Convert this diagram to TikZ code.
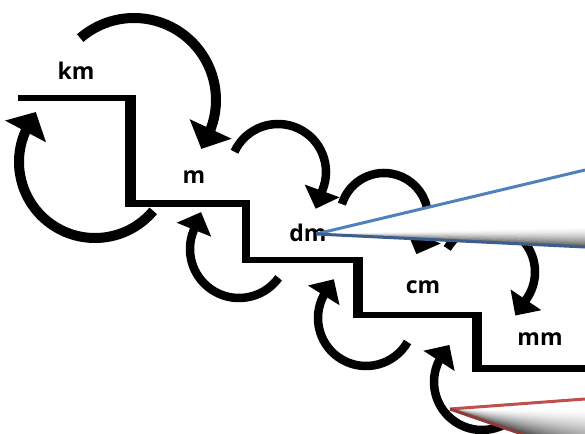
\documentclass[tikz,border=0pt]{standalone}
\usepackage{fontspec}
\setmainfont{Open Sans}
\usetikzlibrary{arrows.meta}
\definecolor{edgeblue}{HTML}{4F81BD}
\definecolor{edgeblued}{HTML}{3A5F8E}
\definecolor{edgered}{HTML}{C0504D}
\definecolor{edgeredd}{HTML}{8E3A38}
\tikzset{
  stair/.style={fill=black},
  bigshaft/.style={draw=black, line width=10pt, -{Triangle[width=45pt,length=22pt]}},
  shaft/.style={draw=black, line width=8.5pt, -{Triangle[width=36pt,length=19pt]}},
  lbl/.style={inner sep=0pt, anchor=base, font=\fontsize{23}{23}\selectfont\bfseries},
  wedgefill/.style={fill=white},
  bluerim/.style={draw=edgeblue, line width=3pt, line join=round},
  bluerimd/.style={draw=edgeblued, line width=3pt, line join=round},
  redrim/.style={draw=edgered, line width=3pt, line join=round},
  redrimd/.style={draw=edgeredd, line width=3pt, line join=round},
}
\begin{document}
\begin{tikzpicture}[x=1pt,y=-1pt]
\useasboundingbox (0,0) rectangle (585,433);
\fill[white] (0,0) rectangle (585,433);

% staircase
\fill[stair] (18,95) rectangle (136,101);
\fill[stair] (125,95) rectangle (136,207);
\fill[stair] (125,200) rectangle (250,207);
\fill[stair] (242,200) rectangle (250,263);
\fill[stair] (242,257) rectangle (363,263);
\fill[stair] (353,257) rectangle (363,318);
\fill[stair] (353,312) rectangle (482,318);
\fill[stair] (472,312) rectangle (482,372);
\fill[stair] (472,365) rectangle (585,372);

% arc centres
\coordinate (c1) at (134,100);
\coordinate (l1) at (95,162);
\coordinate (c2) at (278,172);
\coordinate (l2) at (239,249);
\coordinate (c3) at (384,217);
\coordinate (l3) at (366,318);
\coordinate (c4) at (488,272);
\coordinate (l4) at (482,382);

% arrows over the steps
\draw[bigshaft] (c1) ++(-131:82) arc[start angle=-131, end angle=20, radius=82] -- ++(115:23);
\draw[shaft] (c2) ++(-155:48) arc[start angle=-155, end angle=22, radius=48] -- ++(110:20);
\draw[shaft] (c3) ++(-163:44) arc[start angle=-163, end angle=25, radius=44] -- ++(112:20);
\draw[shaft] (c4) ++(-150:47) arc[start angle=-150, end angle=35, radius=47] -- ++(124:20);

% loops under the steps
\draw[bigshaft] (l1) ++(40:76) arc[start angle=40, end angle=203, radius=76] -- ++(-62:23);
\draw[shaft] (l2) ++(36:49) arc[start angle=36, end angle=202, radius=49] -- ++(-68:20);
\draw[shaft] (l3) ++(30:48) arc[start angle=30, end angle=207, radius=48] -- ++(-58:20);
\draw[shaft] (l4) ++(40:48) arc[start angle=40, end angle=205, radius=48] -- ++(-57:20);

% labels
\node[lbl] (km) at (76,80) {km};
\node[lbl] (m)  at (194,183) {m};
\node[lbl] (dm) at (308,241) {dm};
\node[lbl] (cm) at (423,293) {cm};
\node[lbl] (mm) at (540,345) {mm};

% blue wedge
\coordinate (bA) at (316,234);
\coordinate (bU) at (585,170);
\coordinate (bL) at (585,247);
\fill[wedgefill] (bA) -- (bU) -- (bL) -- cycle;
\foreach \i in {0,...,20}{
  \pgfmathsetmacro\p{62*(\i/20)^1.6}
  \fill[black!\p] (bA) -- (585,{226+\i}) -- (585,{227.6+\i}) -- cycle;
}
\draw[bluerim] (bU) -- (bA);
\draw[bluerimd] (bA) -- (bL);

% red wedge
\coordinate (rA) at (450,409);
\coordinate (rU) at (585,399);
\coordinate (rL) at (585,456);
\fill[wedgefill] (rA) -- (rU) -- (rL) -- cycle;
\foreach \i in {0,...,44}{
  \pgfmathsetmacro\p{72*(\i/44)^1.3}
  \fill[black!\p] (rA) -- (585,{410+\i}) -- (585,{411.6+\i}) -- cycle;
}
\draw[redrim] (rU) -- (rA);
\draw[redrimd] (rA) -- (rL);
\end{tikzpicture}
\end{document}
